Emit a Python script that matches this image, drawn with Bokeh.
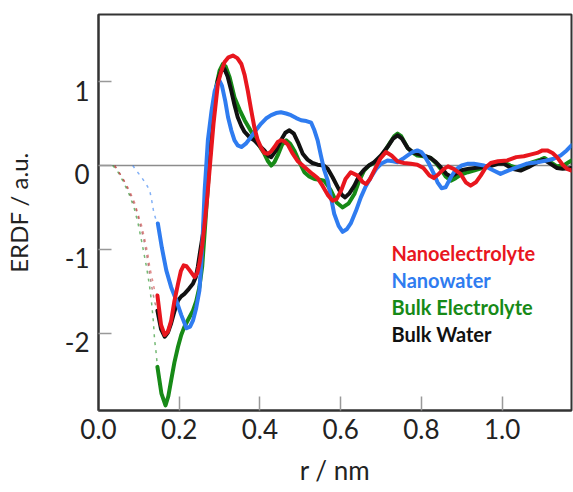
from bokeh.plotting import figure
from bokeh.models import Range1d, FixedTicker, Span, Label, LinearAxis
from bokeh.embed import file_html
from bokeh.resources import INLINE

# ---------------- data ----------------
x_ticks = [0.0, 0.2, 0.4, 0.6, 0.8, 1.0]
x_tick_labels = ["0.0", "0.2", "0.4", "0.6", "0.8", "1.0"]
y_ticks = [-2, -1, 0, 1]
y_tick_labels = ["-2", "-1", "0", "1"]

series_names = ["Nanoelectrolyte", "Nanowater", "Bulk Electrolyte", "Bulk Water"]

nanoelectrolyte_r = [0.146, 0.155, 0.164, 0.172, 0.180, 0.188, 0.197, 0.204, 0.211, 0.218, 0.226, 0.238, 0.245, 0.250, 0.257, 0.263, 0.270, 0.277, 0.285, 0.296, 0.304, 0.312, 0.322, 0.333, 0.344, 0.354, 0.362, 0.370, 0.378, 0.386, 0.394, 0.403, 0.411, 0.420, 0.428, 0.436, 0.444, 0.452, 0.460, 0.469, 0.480, 0.494, 0.506, 0.518, 0.530, 0.543, 0.555, 0.568, 0.580, 0.590, 0.601, 0.612, 0.625, 0.642, 0.655, 0.663, 0.673, 0.683, 0.698, 0.712, 0.726, 0.741, 0.757, 0.774, 0.790, 0.805, 0.820, 0.831, 0.843, 0.856, 0.866, 0.880, 0.897, 0.910, 0.922, 0.935, 0.947, 0.960, 0.972, 0.990, 1.013, 1.035, 1.054, 1.070, 1.087, 1.100, 1.112, 1.125, 1.136, 1.150, 1.161, 1.172]
nanoelectrolyte_g = [-1.55, -1.90, -2.02, -1.98, -1.85, -1.62, -1.41, -1.26, -1.19, -1.20, -1.25, -1.33, -1.28, -1.17, -0.95, -0.69, -0.35, 0.05, 0.50, 0.98, 1.12, 1.23, 1.29, 1.31, 1.28, 1.21, 1.08, 0.89, 0.67, 0.46, 0.31, 0.21, 0.15, 0.14, 0.17, 0.22, 0.28, 0.30, 0.29, 0.25, 0.15, 0.05, 0.00, -0.05, -0.10, -0.15, -0.24, -0.35, -0.42, -0.40, -0.30, -0.16, -0.08, -0.12, -0.20, -0.22, -0.16, -0.06, 0.08, 0.16, 0.12, 0.05, 0.03, 0.02, 0.01, -0.03, -0.12, -0.15, -0.10, -0.04, -0.01, -0.04, -0.10, -0.20, -0.24, -0.20, -0.12, -0.02, 0.03, 0.05, 0.06, 0.10, 0.11, 0.13, 0.15, 0.18, 0.18, 0.15, 0.10, 0.01, -0.04, -0.06]

nanowater_r = [0.147, 0.157, 0.168, 0.180, 0.193, 0.205, 0.218, 0.227, 0.234, 0.242, 0.250, 0.255, 0.259, 0.263, 0.267, 0.271, 0.280, 0.288, 0.295, 0.300, 0.306, 0.314, 0.321, 0.329, 0.337, 0.345, 0.354, 0.365, 0.378, 0.390, 0.403, 0.415, 0.428, 0.440, 0.452, 0.465, 0.477, 0.490, 0.502, 0.515, 0.527, 0.535, 0.543, 0.551, 0.559, 0.568, 0.576, 0.584, 0.595, 0.605, 0.615, 0.625, 0.638, 0.650, 0.662, 0.675, 0.688, 0.700, 0.716, 0.730, 0.741, 0.754, 0.766, 0.778, 0.790, 0.800, 0.807, 0.819, 0.831, 0.840, 0.850, 0.860, 0.873, 0.885, 0.900, 0.914, 0.930, 0.955, 0.975, 0.996, 1.015, 1.038, 1.060, 1.087, 1.110, 1.128, 1.145, 1.160, 1.172]
nanowater_g = [-0.69, -0.98, -1.25, -1.45, -1.61, -1.78, -1.94, -1.92, -1.85, -1.70, -1.49, -1.15, -0.75, -0.30, 0.00, 0.30, 0.65, 0.89, 0.98, 1.01, 0.95, 0.77, 0.575, 0.42, 0.30, 0.24, 0.22, 0.26, 0.34, 0.42, 0.50, 0.56, 0.60, 0.625, 0.635, 0.62, 0.60, 0.565, 0.54, 0.53, 0.51, 0.42, 0.30, 0.12, -0.05, -0.18, -0.38, -0.575, -0.72, -0.79, -0.76, -0.69, -0.54, -0.38, -0.25, -0.14, -0.04, 0.02, 0.06, 0.05, 0.04, 0.08, 0.12, 0.16, 0.18, 0.16, 0.12, 0.02, -0.10, -0.20, -0.27, -0.26, -0.14, -0.05, 0.00, 0.02, 0.02, 0.00, -0.05, -0.10, -0.06, -0.02, 0.02, 0.04, 0.06, 0.08, 0.12, 0.18, 0.24]

bulk_electrolyte_r = [0.146, 0.156, 0.166, 0.173, 0.180, 0.188, 0.197, 0.205, 0.213, 0.224, 0.234, 0.242, 0.250, 0.257, 0.263, 0.270, 0.277, 0.285, 0.292, 0.300, 0.308, 0.315, 0.325, 0.337, 0.350, 0.362, 0.374, 0.386, 0.398, 0.411, 0.420, 0.428, 0.436, 0.444, 0.455, 0.465, 0.475, 0.485, 0.497, 0.510, 0.522, 0.535, 0.548, 0.559, 0.568, 0.576, 0.590, 0.605, 0.620, 0.634, 0.646, 0.658, 0.670, 0.683, 0.696, 0.708, 0.722, 0.733, 0.741, 0.750, 0.766, 0.780, 0.790, 0.805, 0.823, 0.836, 0.848, 0.860, 0.873, 0.885, 0.897, 0.915, 0.930, 0.950, 0.972, 0.990, 1.005, 1.020, 1.038, 1.055, 1.070, 1.095, 1.105, 1.120, 1.136, 1.153, 1.165, 1.172]
bulk_electrolyte_g = [-2.40, -2.72, -2.86, -2.75, -2.56, -2.35, -2.16, -2.02, -1.92, -1.82, -1.73, -1.62, -1.45, -1.20, -0.80, -0.32, 0.15, 0.62, 0.95, 1.13, 1.21, 1.18, 1.05, 0.81, 0.66, 0.54, 0.44, 0.34, 0.24, 0.14, 0.05, 0.00, 0.04, 0.12, 0.25, 0.30, 0.26, 0.18, 0.05, -0.08, -0.13, -0.16, -0.17, -0.18, -0.24, -0.30, -0.44, -0.50, -0.45, -0.34, -0.18, -0.06, 0.00, 0.03, 0.09, 0.16, 0.27, 0.35, 0.38, 0.35, 0.21, 0.15, 0.12, 0.11, 0.09, 0.03, -0.04, -0.13, -0.18, -0.15, -0.11, -0.08, -0.06, -0.03, 0.00, 0.03, 0.04, 0.00, -0.03, 0.00, 0.03, 0.07, 0.09, 0.04, -0.01, 0.00, 0.04, 0.06]

bulk_water_r = [0.146, 0.155, 0.164, 0.172, 0.180, 0.188, 0.197, 0.205, 0.213, 0.224, 0.234, 0.241, 0.246, 0.252, 0.259, 0.266, 0.273, 0.280, 0.288, 0.296, 0.304, 0.312, 0.320, 0.329, 0.337, 0.345, 0.354, 0.362, 0.374, 0.386, 0.398, 0.411, 0.420, 0.428, 0.440, 0.452, 0.463, 0.473, 0.484, 0.494, 0.506, 0.518, 0.530, 0.543, 0.558, 0.568, 0.580, 0.593, 0.603, 0.611, 0.622, 0.634, 0.646, 0.658, 0.670, 0.683, 0.700, 0.716, 0.730, 0.741, 0.752, 0.766, 0.778, 0.790, 0.805, 0.823, 0.836, 0.848, 0.862, 0.873, 0.885, 0.897, 0.915, 0.947, 0.975, 0.990, 1.005, 1.025, 1.046, 1.065, 1.087, 1.103, 1.120, 1.136, 1.150, 1.172]
bulk_water_g = [-1.73, -1.95, -2.04, -1.99, -1.88, -1.74, -1.61, -1.56, -1.53, -1.47, -1.41, -1.33, -1.21, -1.02, -0.81, -0.40, 0.05, 0.45, 0.81, 1.02, 1.13, 1.15, 1.06, 0.89, 0.72, 0.575, 0.47, 0.40, 0.34, 0.30, 0.24, 0.18, 0.12, 0.10, 0.18, 0.30, 0.39, 0.42, 0.38, 0.28, 0.14, 0.07, 0.03, 0.01, 0.00, -0.04, -0.14, -0.26, -0.35, -0.38, -0.33, -0.24, -0.12, -0.05, 0.00, 0.04, 0.12, 0.22, 0.32, 0.36, 0.32, 0.21, 0.16, 0.14, 0.12, 0.09, 0.04, -0.02, -0.10, -0.13, -0.10, -0.06, -0.04, -0.02, 0.00, 0.02, 0.02, -0.04, -0.06, -0.02, 0.04, 0.07, 0.02, -0.03, -0.04, -0.03]

# dashed extrapolations at short r
nanoelectrolyte_dash_r = [0.040, 0.045, 0.060, 0.077, 0.090, 0.098, 0.107, 0.115, 0.122, 0.127, 0.134, 0.139, 0.146]
nanoelectrolyte_dash_g = [0.0, -0.04, -0.15, -0.30, -0.45, -0.58, -0.72, -0.89, -1.05, -1.21, -1.37, -1.49, -1.55]
nanowater_dash_r = [0.085, 0.092, 0.105, 0.118, 0.127, 0.132, 0.137, 0.142, 0.147]
nanowater_dash_g = [0.0, -0.05, -0.13, -0.22, -0.30, -0.42, -0.56, -0.64, -0.69]
bulk_electrolyte_dash_r = [0.035, 0.045, 0.060, 0.075, 0.088, 0.098, 0.108, 0.119, 0.126, 0.131, 0.136, 0.139, 0.143, 0.146]
bulk_electrolyte_dash_g = [0.0, -0.05, -0.18, -0.33, -0.50, -0.69, -0.93, -1.21, -1.42, -1.61, -1.86, -2.08, -2.24, -2.40]
bulk_water_dash_r = [0.040, 0.050, 0.065, 0.080, 0.093, 0.103, 0.112, 0.120, 0.127, 0.134, 0.140, 0.146]
bulk_water_dash_g = [0.0, -0.07, -0.20, -0.36, -0.52, -0.70, -0.88, -1.08, -1.30, -1.50, -1.64, -1.73]

# ---------------- styling ----------------
FONT = "Lato"
TXT = "#222222"
RED = "#e8161e"
BLUE = "#2f7cf0"
GREEN = "#178a17"
BLACK = "#111111"

Y0, Y1 = -2.92, 1.80
LABEL_SHIFT = 0.107  # y tick labels sit just below their ticks, as in the reference

p = figure(width=573, height=492, output_backend="svg", toolbar_location=None,
           x_range=Range1d(0.0, 1.172), y_range=Range1d(Y0, Y1),
           min_border_left=97, min_border_right=2, min_border_top=14, min_border_bottom=82)
p.background_fill_color = "white"
p.border_fill_color = "white"
p.outline_line_color = "#333333"
p.outline_line_width = 2
p.xgrid.visible = False
p.ygrid.visible = False

xa = p.xaxis[0]
xa.ticker = FixedTicker(ticks=x_ticks)
xa.major_label_overrides = {t: l for t, l in zip(x_ticks, x_tick_labels)}
xa.major_label_text_font = FONT
xa.major_label_text_font_size = "26px"
xa.major_label_text_color = TXT
xa.major_label_standoff = 8
xa.axis_line_color = "#333333"
xa.axis_line_width = 2
xa.major_tick_in = 14
xa.major_tick_out = 0
xa.major_tick_line_color = "#999999"
xa.major_tick_line_width = 1.5
xa.minor_tick_line_color = None
xa.axis_label = "r / nm"
xa.axis_label_text_font = FONT
xa.axis_label_text_font_size = "26px"
xa.axis_label_text_font_style = "normal"
xa.axis_label_text_color = TXT
xa.axis_label_standoff = 12

ya = p.yaxis[0]
ya.ticker = FixedTicker(ticks=y_ticks)
ya.major_label_text_color = None
ya.major_label_text_font_size = "1px"
ya.major_label_standoff = 0
ya.axis_line_color = "#333333"
ya.axis_line_width = 2
ya.major_tick_in = 13
ya.major_tick_out = 0
ya.major_tick_line_color = "#999999"
ya.major_tick_line_width = 1.5
ya.minor_tick_line_color = None

# label-only left axis
p.extra_y_ranges = {"labels": Range1d(Y0 + LABEL_SHIFT, Y1 + LABEL_SHIFT)}
la = LinearAxis(y_range_name="labels", ticker=FixedTicker(ticks=y_ticks),
                major_label_overrides={t: l for t, l in zip(y_ticks, y_tick_labels)},
                axis_line_color=None, major_tick_line_color=None, minor_tick_line_color=None,
                major_tick_in=0, major_tick_out=0, major_label_standoff=9,
                major_label_text_font=FONT, major_label_text_font_size="26px",
                major_label_text_color=TXT,
                axis_label="ERDF / a.u.", axis_label_text_font=FONT,
                axis_label_text_font_size="24px", axis_label_text_font_style="normal",
                axis_label_text_color=TXT, axis_label_standoff=29)
p.add_layout(la, "left")

p.add_layout(Span(location=0, dimension="width", line_color="#8c8c8c", line_width=1.5, level="underlay"))

# dashed short-range parts
dash_sets = [
    (bulk_electrolyte_dash_r, bulk_electrolyte_dash_g, GREEN),
    (bulk_water_dash_r, bulk_water_dash_g, "#8a3a3a"),
    (nanowater_dash_r, nanowater_dash_g, BLUE),
    (nanoelectrolyte_dash_r, nanoelectrolyte_dash_g, "#d04040"),
]
for xs, ys, c in dash_sets:
    p.line(xs, ys, line_color=c, line_width=1.5, line_dash="3 5", line_alpha=0.6)

# solid curves
curves = [
    (bulk_electrolyte_r, bulk_electrolyte_g, GREEN),
    (bulk_water_r, bulk_water_g, BLACK),
    (nanowater_r, nanowater_g, BLUE),
    (nanoelectrolyte_r, nanoelectrolyte_g, RED),
]
for xs, ys, c in curves:
    p.line(xs, ys, line_color=c, line_width=4, line_join="round", line_cap="round")

# legend as coloured text
legend_colors = [RED, BLUE, GREEN, BLACK]
for i, (name, c) in enumerate(zip(series_names, legend_colors)):
    p.add_layout(Label(x=293, y=158 - 27 * i, x_units="screen", y_units="screen", text=name,
                       text_color=c, text_font=FONT, text_font_style="bold", text_font_size="20px",
                       text_baseline="middle", text_align="left"))

open("out.html", "w").write(file_html(p, INLINE))
